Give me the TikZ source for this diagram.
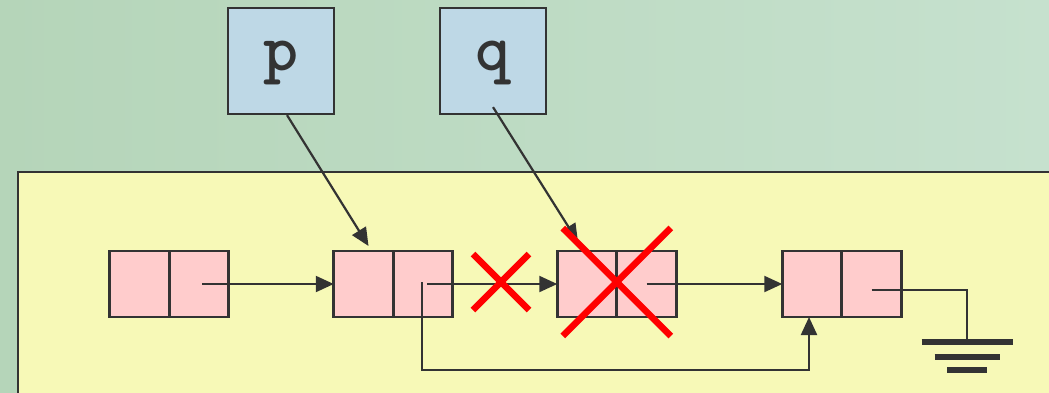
\documentclass[tikz,border=0pt]{standalone}
\usepackage{xcolor}
\usepackage{tikz}
\definecolor{listPink}{HTML}{FFCCCC}
\definecolor{listBlue}{HTML}{BED8E6}
\definecolor{listPanel}{HTML}{F7F9B7}
\definecolor{listLine}{HTML}{333333}
\definecolor{listRed}{HTML}{FF0000}
\definecolor{bgLeft}{HTML}{B5D5B9}
\definecolor{bgMid}{HTML}{BDDAA9}
\definecolor{bgRight}{HTML}{C6E1CE}
\usetikzlibrary{arrows.meta,positioning}

\begin{document}
\begin{tikzpicture}[
  >=Latex,
  cellbox/.style={
    draw=listLine,
    line width=0.028cm,
    fill=listPink,
    minimum width=0.595cm,
    minimum height=0.66cm,
    inner sep=0pt,
    outer sep=0pt
  },
  varbox/.style={
    draw=listLine,
    line width=0.022cm,
    fill=listBlue,
    minimum width=1.06cm,
    minimum height=1.06cm,
    inner sep=0pt,
    font=\ttfamily\bfseries\fontsize{19}{19}\selectfont,
    text=listLine,
    text height=0.75em,
    text depth=0.2em
  },
  link/.style={line width=0.025cm, listLine},
  pointer/.style={-{Triangle[length=0.18cm,width=0.16cm]}, line width=0.022cm, listLine},
  cross/.style={line width=0.065cm, listRed},
  groundbar/.style={line width=0.065cm, listLine}
]

\useasboundingbox (0,0) rectangle (10.49,-3.92);
\clip (0,0) rectangle (10.49,-3.92);

% Background and panel
\shade[left color=bgLeft, middle color=bgMid, right color=bgRight] (0,0) rectangle (10.49,-3.92);
\draw[line width=0.022cm, draw=listLine, fill=listPanel] (0.18,-1.72) rectangle (10.70,-4.10);

% Pointer variables
\node[varbox] (p) at (2.81,-0.61) {p};
\node[varbox] (q) at (4.93,-0.61) {q};

% List nodes
\node[cellbox] (n1a) at (1.395,-2.84) {};
\node[cellbox, right=0pt of n1a] (n1b) {};
\node[cellbox] (n2a) at (3.635,-2.84) {};
\node[cellbox, right=0pt of n2a] (n2b) {};
\node[cellbox] (n3a) at (5.87,-2.84) {};
\node[cellbox, right=0pt of n3a] (n3b) {};
\node[cellbox] (n4a) at (8.12,-2.84) {};
\node[cellbox, right=0pt of n4a] (n4b) {};

% Relations
\draw[pointer] ([xshift=0.03cm]n1b.center) -- (n2a.west);
\draw[pointer] ([xshift=0.04cm]n2b.center) -- (n3a.west);
\draw[pointer] (n3b.center) -- (n4a.west);
\draw[pointer] ([xshift=-0.01cm,yshift=0.02cm]n2b.center) -- ++(0,-0.88) -| ([xshift=-0.03cm]n4a.south);
\draw[pointer] ([xshift=0.06cm]p.south) -- ([xshift=0.05cm,yshift=0.05cm]n2a.north);
\draw[pointer] ([yshift=0.08cm]q.south) -- ([xshift=-0.09cm,yshift=0.09cm]n3a.north);

% Ground
\coordinate (gnd) at (9.67,-3.42);
\draw[link] ([yshift=-0.06cm]n4b.center) -| (gnd);
\draw[groundbar] (gnd) +(-0.455,0) -- +(0.455,0);
\draw[groundbar] ([yshift=-0.15cm]gnd) +(-0.325,0) -- +(0.325,0);
\draw[groundbar] ([yshift=-0.28cm]gnd) +(-0.20,0) -- +(0.20,0);

% Removed links
\coordinate (cut) at (5.01,-2.82);
\draw[cross] (cut) +(-0.28,0.28) -- +(0.28,-0.28);
\draw[cross] (cut) +(-0.28,-0.28) -- +(0.28,0.28);
\draw[cross] ([yshift=0.02cm]n3a.east) +(-0.54,0.54) -- +(0.54,-0.54);
\draw[cross] ([yshift=0.02cm]n3a.east) +(-0.54,-0.54) -- +(0.54,0.54);

\end{tikzpicture}
\end{document}
